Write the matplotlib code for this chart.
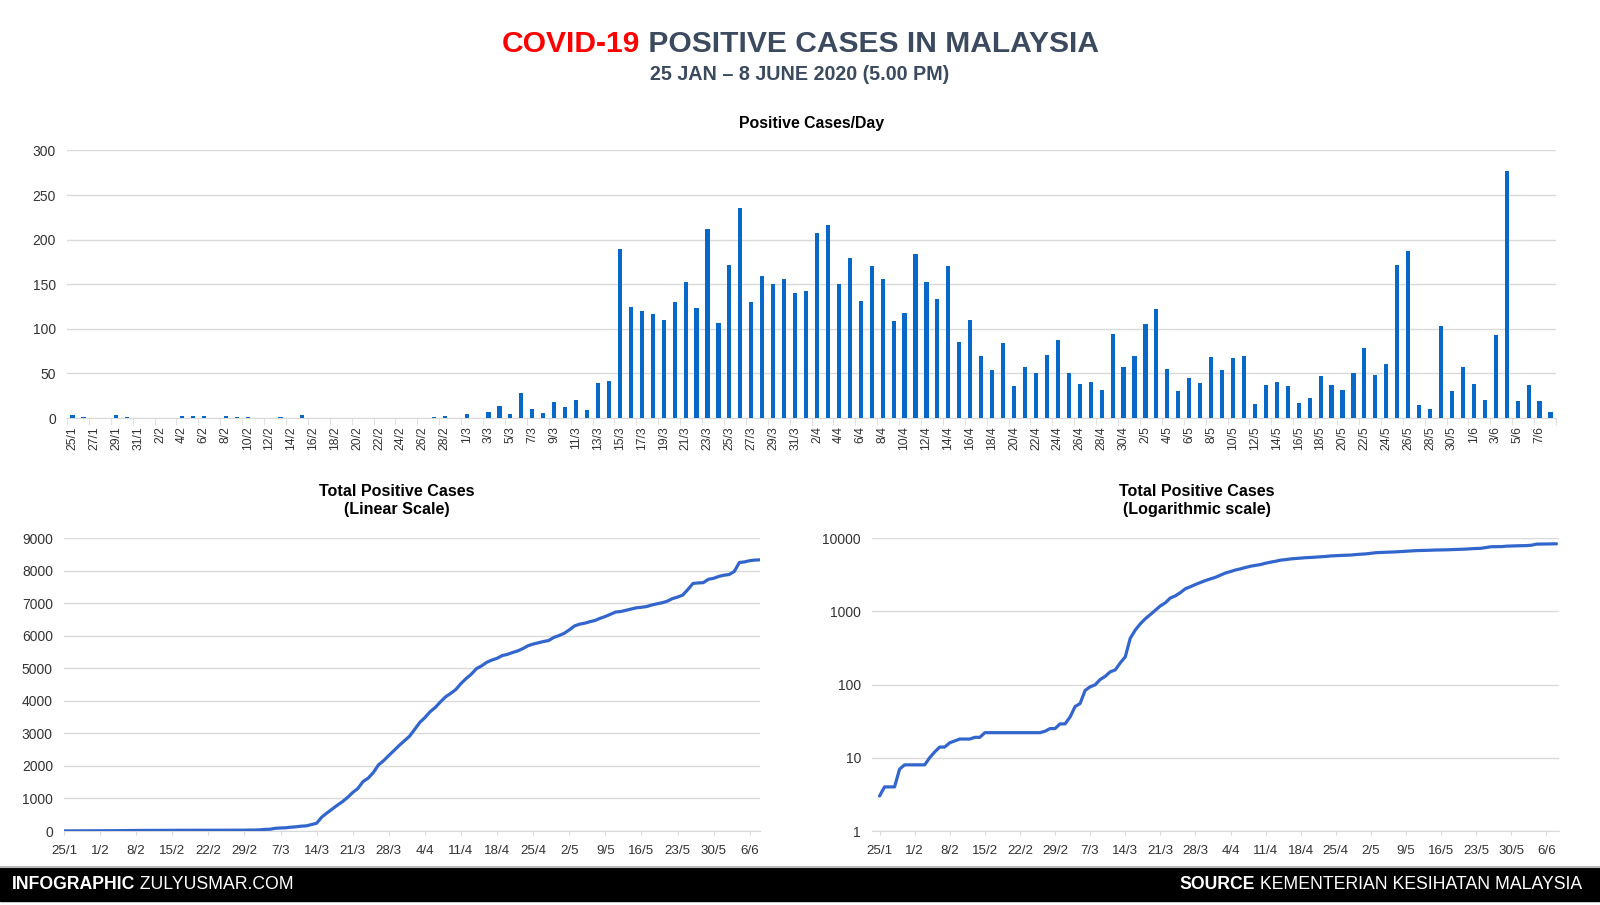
import numpy as np
import pandas as pd
import matplotlib
matplotlib.use("Agg")
import matplotlib.pyplot as plt
from matplotlib.patches import Rectangle
from matplotlib.lines import Line2D

plt.rcParams['font.family'] = ['Liberation Sans', 'DejaVu Sans']

# daily new positive cases, 25 Jan - 8 Jun 2020
cases_jan = [3, 1, 0, 0, 3, 1, 0]
cases_feb = [0, 0, 0, 2, 2, 2, 0, 2, 1, 1, 0, 0, 1, 0, 3, 0, 0, 0, 0, 0,
             0, 0, 0, 0, 0, 0, 1, 2, 0]
cases_mar = [4, 0, 7, 14, 5, 28, 10, 6, 18, 12, 20, 9, 39, 41, 190, 125,
             120, 117, 110, 130, 153, 123, 212, 106, 172, 235, 130, 159,
             150, 156, 140]
cases_apr = [142, 208, 217, 150, 179, 131, 170, 156, 109, 118, 184, 153,
             134, 170, 85, 110, 69, 54, 84, 36, 57, 50, 71, 88, 51, 38, 40,
             31, 94, 57]
cases_may = [69, 105, 122, 55, 30, 45, 39, 68, 54, 67, 70, 16, 37, 40, 36,
             17, 22, 47, 37, 31, 50, 78, 48, 60, 172, 187, 15, 10, 103, 30,
             57]
cases_jun = [38, 20, 93, 277, 19, 37, 19, 7]

daily = cases_jan + cases_feb + cases_mar + cases_apr + cases_may + cases_jun
dates = pd.date_range("2020-01-25", "2020-06-08")
date_labels = [f"{d.day}/{d.month}" for d in dates]
total = np.cumsum(daily)

BAR = "#0868C8"
LINE = "#3366CC"
GRID = "#DADADA"
TICK = "#333333"
SLATE = "#3B4A5F"

W, H = 1600, 905
fig = plt.figure(figsize=(16, 9.05), dpi=100)
fig.patch.set_facecolor("white")


def fx(px):
    return px / W


def fy(py):
    return 1 - py / H


def joined(y, parts, x, ha, size):
    # parts: list of (text, color, weight) drawn one after another
    r = fig.canvas.get_renderer()
    objs = []
    widths = []
    for txt, col, wt in parts:
        t = fig.text(0, y, txt, color=col, fontsize=size, fontweight=wt, va="center")
        objs.append(t)
        widths.append(t.get_window_extent(r).width / fig.bbox.width)
    tot = sum(widths)
    if ha == "center":
        x0 = x - tot / 2
    elif ha == "right":
        x0 = x - tot
    else:
        x0 = x
    for t, w in zip(objs, widths):
        t.set_x(x0)
        x0 += w


def clean(ax):
    for s in ["top", "right", "left"]:
        ax.spines[s].set_visible(False)
    ax.spines["bottom"].set_color(GRID)
    ax.yaxis.grid(True, color=GRID, lw=1)
    ax.set_axisbelow(True)
    ax.tick_params(axis="y", length=0, pad=8, labelsize=10, labelcolor=TICK)


# titles
joined(fy(44), [("COVID-19", "#FF0000", "bold"),
                (" POSITIVE CASES IN MALAYSIA", SLATE, "bold")], 0.5, "center", 21.6)
fig.text(0.5, fy(74.5), "25 JAN \u2013 8 JUNE 2020 (5.00 PM)", color=SLATE,
         fontsize=14.2, fontweight="bold", ha="center", va="center")

# daily bars
x = np.arange(len(daily))
ax1 = fig.add_axes([fx(67), fy(418), fx(1556 - 67), (418 - 150.5) / H])
ax1.bar(x, daily, width=0.38, color=BAR, zorder=3)
ax1.set_xlim(-0.5, len(daily) - 0.5)
ax1.set_ylim(0, 300)
ax1.set_yticks(range(0, 301, 50))
ax1.set_xticks(x[::2])
ax1.set_xticklabels(date_labels[::2], rotation=90, fontsize=8.7, color=TICK)
ax1.set_xticks(np.arange(-0.5, len(daily), 2), minor=True)
ax1.tick_params(axis="x", which="major", length=0, pad=6)
ax1.tick_params(axis="x", which="minor", length=5, color=GRID)
clean(ax1)
ax1.set_title("Positive Cases/Day", fontsize=11.4, fontweight="bold", pad=16)

# cumulative, linear and log
week = x[::7]
week_labels = date_labels[::7]

ax2 = fig.add_axes([fx(64), fy(831), fx(760 - 64), (831 - 538) / H])
ax2.plot(x, total, color=LINE, lw=2.3, solid_capstyle="round", zorder=3)
ax2.set_xlim(0, len(daily) - 1)
ax2.set_ylim(0, 9000)
ax2.set_yticks(range(0, 9001, 1000))
ax2.set_xticks(week)
ax2.set_xticklabels(week_labels, fontsize=9.6, color=TICK)
ax2.tick_params(axis="x", length=3, color=GRID, pad=7)
clean(ax2)

ax3 = fig.add_axes([fx(872), fy(831), fx(1559 - 872), (831 - 538) / H])
ax3.plot(x, total, color=LINE, lw=2.3, solid_capstyle="round", zorder=3)
ax3.set_yscale("log")
ax3.set_xlim(-1.5, len(daily) - 0.5)
ax3.set_ylim(1, 10000)
ax3.set_yticks([1, 10, 100, 1000, 10000])
ax3.set_yticklabels(["1", "10", "100", "1000", "10000"])
ax3.minorticks_off()
ax3.set_xticks(week)
ax3.set_xticklabels(week_labels, fontsize=9.6, color=TICK)
ax3.tick_params(axis="x", length=3, color=GRID, pad=7)
clean(ax3)

fig.text(fx(397), fy(500.5), "Total Positive Cases\n(Linear Scale)", fontsize=11.6,
         fontweight="bold", ha="center", va="center", linespacing=1.2)
fig.text(fx(1197), fy(500.5), "Total Positive Cases\n(Logarithmic scale)", fontsize=11.6,
         fontweight="bold", ha="center", va="center", linespacing=1.2)

# footer band
fig.add_artist(Line2D([0, 1], [fy(866.5), fy(866.5)], color="#BBBBBB", lw=1.5))
fig.add_artist(Rectangle((0, fy(901)), 1, (901 - 868) / H, color="black"))
joined(fy(884), [("INFOGRAPHIC", "white", "bold"),
                 (" ZULYUSMAR.COM", "white", "normal")], fx(12), "left", 12.7)
joined(fy(884), [("SOURCE", "white", "bold"),
                 (" KEMENTERIAN KESIHATAN MALAYSIA", "white", "normal")],
       fx(1582), "right", 12.7)

fig.savefig("out.png", dpi=100)
